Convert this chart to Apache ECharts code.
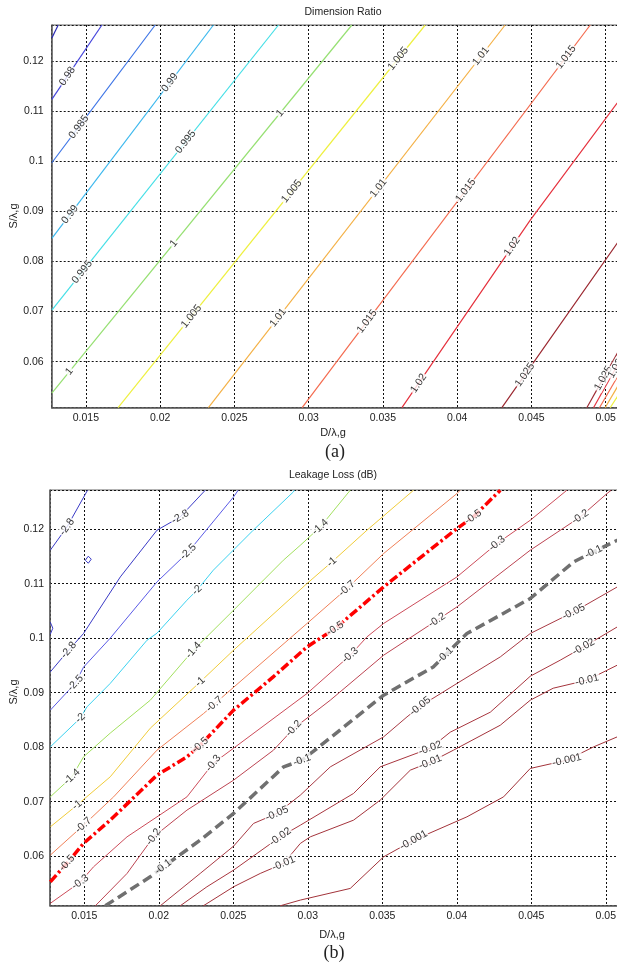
<!DOCTYPE html>
<html>
<head>
<meta charset="utf-8">
<script src="https://cdn.jsdelivr.net/npm/echarts/dist/echarts.min.js"></script>
<style>
  html, body { margin: 0; padding: 0; background: #fff; }
  #main { width: 617px; height: 965px; }
</style>
</head>
<body>
<div id="main"></div>
<script>
// ---------- axis ranges ----------
const xRange = [0.0127, 0.052];
const yRangeRatio = [0.0508, 0.1272];
const yRangeLoss = [0.0509, 0.1272];

// ---------- (a) Dimension Ratio contour lines ----------
const ratio0975 = [[0.01271, 0.12459], [0.01314, 0.1272]];
const ratio0980 = [[0.01271, 0.11236], [0.01608, 0.1272]];
const ratio0985 = [[0.01271, 0.0997], [0.01967, 0.1272]];
const ratio0990 = [[0.01271, 0.08461], [0.02359, 0.1272]];
const ratio0995 = [[0.01271, 0.0703], [0.02797, 0.1272]];
const ratio1000 = [[0.01271, 0.05373], [0.03291, 0.1272]];
const ratio1005 = [[0.01717, 0.0508], [0.03785, 0.1272]];
const ratio1010 = [[0.02325, 0.0508], [0.04323, 0.1272]];
const ratio1015 = [[0.02956, 0.0508], [0.04896, 0.1272]];
const ratio1020 = [[0.03628, 0.0508], [0.04492, 0.08826], [0.05077, 0.11162], [0.0546, 0.1272]];
const ratio1025 = [[0.04301, 0.0508], [0.05077, 0.08361], [0.0537, 0.0959]];
// steep fall-off near the right edge
const ratioEdge1025 = [[0.04873, 0.0508], [0.05098, 0.06271]];
const ratioEdge1020 = [[0.04918, 0.0508], [0.05098, 0.06032]];
const ratioEdge1015 = [[0.04958, 0.0508], [0.05098, 0.05792]];
const ratioEdge1010 = [[0.04996, 0.0508], [0.05098, 0.05593]];
const ratioEdge1005 = [[0.0503, 0.0508], [0.05098, 0.05393]];

const ratioLabels = [
  [0.01394, 0.11661, '0.98'],
  [0.01462, 0.10663, '0.985'],
  [0.02088, 0.11521, '0.99'],
  [0.01381, 0.08966, '0.99'],
  [0.02182, 0.10363, '0.995'],
  [0.01475, 0.07788, '0.995'],
  [0.02808, 0.10962, '1'],
  [0.02088, 0.08367, '1'],
  [0.01394, 0.05792, '1'],
  [0.02876, 0.09425, '1.005'],
  [0.02216, 0.0689, '1.005'],
  [0.03616, 0.1202, '1.005'],
  [0.02788, 0.0689, '1.01'],
  [0.03461, 0.09485, '1.01'],
  [0.04168, 0.1208, '1.01'],
  [0.04054, 0.09425, '1.015'],
  [0.03381, 0.0683, '1.015'],
  [0.04741, 0.1206, '1.015'],
  [0.03737, 0.05573, '1.02'],
  [0.04377, 0.08287, '1.02'],
  [0.04438, 0.05772, '1.025'],
  [0.04983, 0.05673, '1.025'],
  [0.05037, 0.05912, '1.02']
];

// ---------- (b) Leakage Loss contour lines ----------
const loss28a = [[0.01272, 0.11615], [0.01384, 0.12042], [0.01522, 0.12716]];
const loss28b = [[0.01272, 0.09381], [0.01395, 0.0978], [0.01495, 0.10086], [0.01742, 0.11125], [0.01988, 0.11982], [0.02144, 0.12226], [0.02312, 0.12716]];
const loss28c = [[0.01272, 0.10293], [0.01289, 0.10183], [0.01272, 0.10073]];
const loss28d = [[0.01507, 0.11431], [0.01527, 0.11505], [0.01547, 0.1145], [0.01527, 0.11376], [0.01507, 0.11431]];
const loss25 = [[0.01272, 0.08679], [0.0144, 0.09174], [0.01495, 0.09468], [0.01674, 0.1], [0.01988, 0.11033], [0.02198, 0.11583], [0.02502, 0.12593], [0.02533, 0.12716]];
const loss20 = [[0.01272, 0.08005], [0.01473, 0.08532], [0.01518, 0.08739], [0.01674, 0.09169], [0.01921, 0.09963], [0.01988, 0.10092], [0.02189, 0.10697], [0.02256, 0.1088], [0.02366, 0.11248], [0.02634, 0.11982], [0.02903, 0.12684], [0.0291, 0.12716]];
const loss14 = [[0.01272, 0.07088], [0.01417, 0.07455], [0.01495, 0.07822], [0.01674, 0.08257], [0.01943, 0.08862], [0.02232, 0.0978], [0.02502, 0.10514], [0.02836, 0.11431], [0.0295, 0.11706], [0.03084, 0.12042], [0.03285, 0.12716]];
const loss10 = [[0.01272, 0.06537], [0.01451, 0.06936], [0.01674, 0.07455], [0.01943, 0.08348], [0.02278, 0.09198], [0.02502, 0.0978], [0.02995, 0.11004], [0.03162, 0.114], [0.03397, 0.11982], [0.0371, 0.12716]];
const loss07 = [[0.01272, 0.06018], [0.01495, 0.06568], [0.01697, 0.07088], [0.01988, 0.07945], [0.02301, 0.08618], [0.0248, 0.09046], [0.02995, 0.1027], [0.03263, 0.10912], [0.03509, 0.11554], [0.04001, 0.12655], [0.04023, 0.12716]];
const loss05 = [[0.01272, 0.05528], [0.01384, 0.05871], [0.01495, 0.06233], [0.01674, 0.0666], [0.01988, 0.07486], [0.02189, 0.07822], [0.02278, 0.08036], [0.02502, 0.08679], [0.02768, 0.0929], [0.02995, 0.0984], [0.03184, 0.10178], [0.03509, 0.10941], [0.03733, 0.11431], [0.04001, 0.12013], [0.04111, 0.12226], [0.04292, 0.12716]];
const loss03 = [[0.01272, 0.05133], [0.01473, 0.05523], [0.01562, 0.05803], [0.01787, 0.06354], [0.02189, 0.07088], [0.02366, 0.07706], [0.02502, 0.07981], [0.02995, 0.08985], [0.03285, 0.09688], [0.03397, 0.10024], [0.03509, 0.1027], [0.04001, 0.11125], [0.0427, 0.11738], [0.04493, 0.12165], [0.04739, 0.12716]];
const loss02 = [[0.01574, 0.05088], [0.01787, 0.05682], [0.01965, 0.06354], [0.02189, 0.06844], [0.02502, 0.07394], [0.0277, 0.07945], [0.02905, 0.08343], [0.03151, 0.08862], [0.03509, 0.09688], [0.03867, 0.1033], [0.04001, 0.10574], [0.04493, 0.11615], [0.04829, 0.12226], [0.05008, 0.12655], [0.05037, 0.12716]];
const loss01 = [[0.01641, 0.05088], [0.01943, 0.0562], [0.0203, 0.05803], [0.02278, 0.06293], [0.02502, 0.06783], [0.02838, 0.07638], [0.02961, 0.07761], [0.03062, 0.07976], [0.03509, 0.08954], [0.03842, 0.09473], [0.04068, 0.10086], [0.04493, 0.10728], [0.04784, 0.114], [0.04916, 0.11583], [0.05077, 0.11798], [0.05231, 0.12018]];
const loss005 = [[0.0201, 0.05088], [0.02278, 0.05682], [0.02502, 0.06183], [0.02636, 0.066], [0.02793, 0.06783], [0.0295, 0.07119], [0.03151, 0.07638], [0.03509, 0.08189], [0.03666, 0.08556], [0.03755, 0.08752], [0.04001, 0.09169], [0.04292, 0.09657], [0.04493, 0.10086], [0.04784, 0.10482], [0.05077, 0.10941], [0.0523, 0.1118]];
const loss002 = [[0.02144, 0.05088], [0.02323, 0.05437], [0.02502, 0.05743], [0.02659, 0.06049], [0.02815, 0.06354], [0.0295, 0.06568], [0.03307, 0.0715], [0.03486, 0.07638], [0.03822, 0.07981], [0.03956, 0.08275], [0.04225, 0.08642], [0.04493, 0.09302], [0.04694, 0.09596], [0.04851, 0.0984], [0.05077, 0.10207], [0.0523, 0.1046]];
const loss001 = [[0.02299, 0.05088], [0.02502, 0.05437], [0.02681, 0.05682], [0.02838, 0.05866], [0.0295, 0.06233], [0.03017, 0.06354], [0.03307, 0.0666], [0.03486, 0.07027], [0.03688, 0.07578], [0.03822, 0.07725], [0.03978, 0.07945], [0.04292, 0.08403], [0.04493, 0.08862], [0.04647, 0.09082], [0.04874, 0.09229], [0.05077, 0.09505], [0.0523, 0.0975]];
const loss0001 = [[0.02815, 0.05088], [0.0295, 0.05193], [0.03285, 0.05407], [0.03509, 0.05987], [0.0371, 0.06293], [0.04068, 0.06721], [0.04314, 0.07088], [0.04493, 0.07609], [0.04739, 0.07761], [0.04918, 0.08005], [0.05077, 0.08189], [0.0523, 0.0835]];

const lossLabels = [
  [0.01384, 0.12042, '-2.8'], [0.01395, 0.0978, '-2.8'], [0.02144, 0.12226, '-2.8'],
  [0.0144, 0.09174, '-2.5'], [0.02198, 0.11583, '-2.5'],
  [0.01473, 0.08532, '-2'], [0.02256, 0.1088, '-2'],
  [0.01417, 0.07455, '-1.4'], [0.02232, 0.0978, '-1.4'], [0.03084, 0.12042, '-1.4'],
  [0.01451, 0.06936, '-1'], [0.02278, 0.09198, '-1'], [0.03162, 0.11394, '-1'],
  [0.01495, 0.06568, '-0.7'], [0.02379, 0.0877, '-0.7'], [0.03263, 0.10912, '-0.7'],
  [0.01384, 0.05871, '-0.5'], [0.02278, 0.08036, '-0.5'], [0.03184, 0.10178, '-0.5'], [0.04111, 0.12226, '-0.5'],
  [0.01473, 0.05523, '-0.3'], [0.02366, 0.07706, '-0.3'], [0.03285, 0.09688, '-0.3'], [0.0427, 0.11738, '-0.3'],
  [0.01965, 0.06354, '-0.2'], [0.02905, 0.08343, '-0.2'], [0.03867, 0.1033, '-0.2'], [0.04829, 0.12226, '-0.2'],
  [0.0203, 0.05803, '-0.1'], [0.02961, 0.07761, '-0.1'], [0.03934, 0.09657, '-0.1'], [0.04918, 0.11583, '-0.1'],
  [0.02793, 0.06783, '-0.05'], [0.03755, 0.08752, '-0.05'], [0.04784, 0.10482, '-0.05'],
  [0.02815, 0.06354, '-0.02'], [0.03822, 0.07981, '-0.02'], [0.04851, 0.0984, '-0.02'],
  [0.02838, 0.05866, '-0.01'], [0.03822, 0.07725, '-0.01'], [0.04874, 0.09229, '-0.01'],
  [0.0371, 0.06293, '-0.001'], [0.04739, 0.07761, '-0.001']
];

// ---------- contour sets and their styles ----------
const ratioContours = [
  ['0.975', ratio0975], ['0.98', ratio0980], ['0.985', ratio0985], ['0.99', ratio0990],
  ['0.995', ratio0995], ['1', ratio1000], ['1.005', ratio1005], ['1.01', ratio1010],
  ['1.015', ratio1015], ['1.02', ratio1020], ['1.025', ratio1025],
  ['1.025', ratioEdge1025], ['1.02', ratioEdge1020], ['1.015', ratioEdge1015],
  ['1.01', ratioEdge1010], ['1.005', ratioEdge1005]
];
const ratioStyle = {
  '0.975': { color: '#2a2ab4' }, '0.98': { color: '#4646dc' }, '0.985': { color: '#3c74e6' },
  '0.99': { color: '#3cb8ee' }, '0.995': { color: '#44dfe6' }, '1': { color: '#96e072' },
  '1.005': { color: '#eef040' }, '1.01': { color: '#f4b044' }, '1.015': { color: '#f46a4e' },
  '1.02': { color: '#e5323e' }, '1.025': { color: '#9c2a32' }
};

const lossContours = [
  ['-2.8', loss28a], ['-2.8', loss28b], ['-2.8', loss28c], ['-2.8', loss28d],
  ['-2.5', loss25], ['-2', loss20], ['-1.4', loss14], ['-1', loss10], ['-0.7', loss07],
  ['-0.3', loss03], ['-0.2', loss02], ['-0.05', loss005], ['-0.02', loss002],
  ['-0.01', loss001], ['-0.001', loss0001], ['-0.5', loss05], ['-0.1', loss01]
];
const lossStyle = {
  '-2.8': { color: '#3a3ac6' }, '-2.5': { color: '#5a5ae6' }, '-2': { color: '#3cd2f0' },
  '-1.4': { color: '#a2e05e' }, '-1': { color: '#f0cc3a' }, '-0.7': { color: '#f08058' },
  '-0.5': { color: '#ff0000', width: 3.5, type: [9, 3, 2.5, 3] },
  '-0.3': { color: '#cc4c5a' }, '-0.2': { color: '#bc4452' },
  '-0.1': { color: '#707070', width: 3.5, type: [10, 5] },
  '-0.05': { color: '#a83a44' }, '-0.02': { color: '#a8363f' },
  '-0.01': { color: '#a4343c' }, '-0.001': { color: '#a2333a' }
};

// ---------- layout ----------
const FONT = 'Liberation Sans';
const panels = [
  { grid: { left: 51.7, top: 25, width: 583.7, height: 382.7 }, yRange: yRangeRatio,
    contours: ratioContours, styles: ratioStyle, labels: ratioLabels, width: 1.2, yMargin: 8 },
  { grid: { left: 50, top: 490, width: 585.6, height: 415.7 }, yRange: yRangeLoss,
    contours: lossContours, styles: lossStyle, labels: lossLabels, width: 1, yMargin: 6 }
];

const chart = echarts.init(document.getElementById('main'), null, { renderer: 'canvas' });

function buildOption(labelSeries) {
  const grid = [], xAxis = [], yAxis = [], series = [];
  panels.forEach((p, i) => {
    grid.push(Object.assign({ show: true, borderColor: '#666', borderWidth: 1,
      backgroundColor: 'transparent', containLabel: false, outerBoundsMode: 'none' }, p.grid));
    xAxis.push({
      type: 'value', gridIndex: i, min: xRange[0], max: xRange[1],
      minInterval: 0.005, maxInterval: 0.005,
      axisLine: { show: true, onZero: false, lineStyle: { color: '#5a5a5a', width: 1.5 } },
      axisTick: { show: false },
      axisLabel: { showMinLabel: false, showMaxLabel: false, margin: 5, fontSize: 10.5,
        color: '#222', fontFamily: FONT },
      splitLine: { show: true, lineStyle: { color: '#111', type: [2, 2], width: 1 } }
    });
    yAxis.push({
      type: 'value', gridIndex: i, min: p.yRange[0], max: p.yRange[1],
      minInterval: 0.01, maxInterval: 0.01,
      axisLine: { show: true, onZero: false, lineStyle: { color: '#5a5a5a', width: 1.5 } },
      axisTick: { show: false },
      axisLabel: { showMinLabel: false, showMaxLabel: false, margin: p.yMargin, fontSize: 10.5,
        color: '#222', fontFamily: FONT },
      splitLine: { show: true, lineStyle: { color: '#111', type: [2, 2], width: 1 } }
    });
    p.contours.forEach(([level, pts]) => {
      const st = p.styles[level];
      series.push({
        type: 'line', xAxisIndex: i, yAxisIndex: i, data: pts, symbol: 'none',
        silent: true, animation: false, clip: true, z: st.width ? 3 : 2,
        lineStyle: { color: st.color, width: st.width || p.width, type: st.type || 'solid', cap: 'butt' }
      });
    });
  });
  (labelSeries || []).forEach(s => series.push(s));
  return {
    backgroundColor: '#fff',
    animation: false,
    grid, xAxis, yAxis, series,
    graphic: [
      textEl('Dimension Ratio', 343, 12.5, 10.5, FONT, 0),
      textEl('D/\u03bb,g', 333, 433, 11, FONT, 0),
      textEl('(a)', 335, 452, 18, 'Liberation Serif', 0),
      textEl('S/\u03bb,g', 14, 216, 11, FONT, Math.PI / 2),
      textEl('Leakage Loss (dB)', 333, 475, 10.5, FONT, 0),
      textEl('D/\u03bb,g', 332, 935, 11, FONT, 0),
      textEl('(b)', 334, 953, 18, 'Liberation Serif', 0),
      textEl('S/\u03bb,g', 14, 692, 11, FONT, Math.PI / 2)
    ]
  };
}

function textEl(text, x, y, size, family, rotation) {
  return {
    type: 'text', x, y, rotation, silent: true, z: 10,
    style: { text, x: 0, y: 0, fill: '#222', font: size + 'px "' + family + '"',
      textAlign: 'center', textVerticalAlign: 'middle', align: 'center', verticalAlign: 'middle' }
  };
}

chart.setOption(buildOption());

// Put each inline label on its contour, turned along the local direction of the line.
function labelSeriesFor(p, gi) {
  const pix = p.contours.map(([level, pts]) => ({
    level, pts: pts.map(q => chart.convertToPixel({ gridIndex: gi }, q))
  }));
  const data = p.labels.map(([x, y, text]) => {
    const c = chart.convertToPixel({ gridIndex: gi }, [x, y]);
    let best = null;
    pix.forEach(ct => {
      if (ct.level !== text) return;
      for (let k = 0; k + 1 < ct.pts.length; k++) {
        const a = ct.pts[k], b = ct.pts[k + 1];
        const dx = b[0] - a[0], dy = b[1] - a[1];
        const len2 = dx * dx + dy * dy || 1;
        let t = ((c[0] - a[0]) * dx + (c[1] - a[1]) * dy) / len2;
        t = Math.max(0, Math.min(1, t));
        const q = [a[0] + t * dx, a[1] + t * dy];
        const d = Math.hypot(q[0] - c[0], q[1] - c[1]);
        if (!best || d < best.d) best = { d, q, dx, dy };
      }
    });
    let ang = Math.atan2(-best.dy, best.dx) * 180 / Math.PI;
    if (ang > 90) ang -= 180;
    if (ang < -90) ang += 180;
    return { name: text, value: chart.convertFromPixel({ gridIndex: gi }, best.q), label: { rotate: ang } };
  });
  return {
    type: 'scatter', xAxisIndex: gi, yAxisIndex: gi, data, symbol: 'circle', symbolSize: 1,
    itemStyle: { color: 'rgba(255,255,255,0)' }, silent: true, animation: false, z: 6,
    label: {
      show: true, position: 'inside', formatter: q => q.name, fontSize: 10.5,
      fontFamily: FONT, color: '#000', backgroundColor: '#fff', padding: [0, 1]
    },
    labelLayout: { hideOverlap: false }
  };
}

chart.setOption(buildOption(panels.map((p, i) => labelSeriesFor(p, i))), true);
</script>
</body>
</html>
